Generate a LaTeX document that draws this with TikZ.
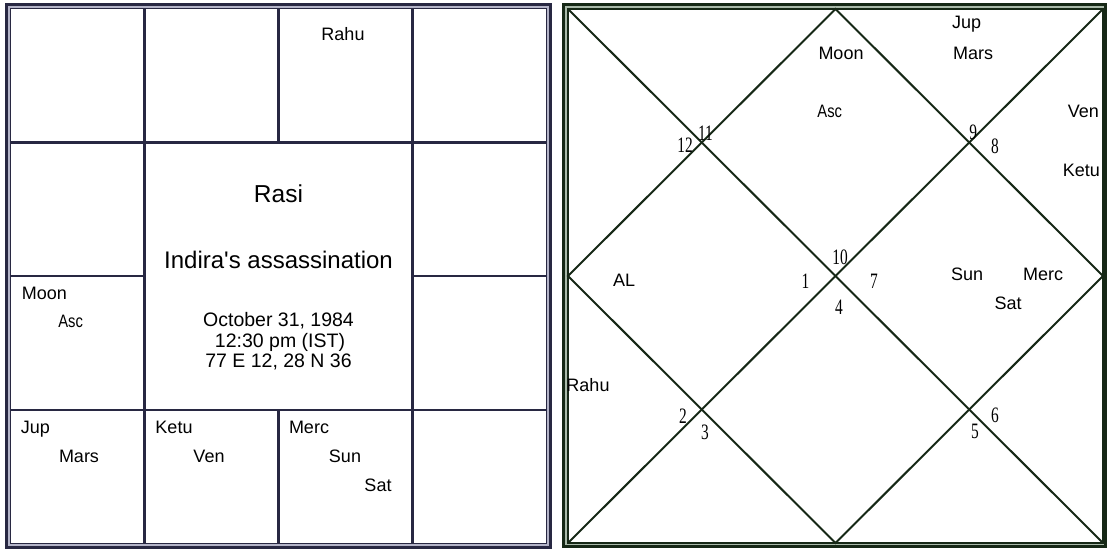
\documentclass[tikz,border=0pt]{standalone}
\usepackage{fontspec}
\setmainfont{Liberation Sans}
\newfontfamily\narrowsans[FakeStretch=0.82]{Liberation Sans}
\newfontfamily\housefont[FakeStretch=0.7]{Liberation Serif}
\definecolor{gridnavy}{RGB}{40,40,66}
\definecolor{framelav}{RGB}{180,180,200}
\definecolor{linegreen}{RGB}{22,40,22}
\definecolor{framegreen}{RGB}{170,186,170}
\begin{document}
\begin{tikzpicture}[x=1pt,y=-1pt,
  grid/.style={gridnavy,line width=2.5pt},
  house/.style={linegreen,line width=2pt},
  planet/.style={font=\fontsize{18}{20}\selectfont,inner sep=0pt,anchor=base},
  narrowplanet/.style={font=\narrowsans\fontsize{18}{20}\selectfont,inner sep=0pt,anchor=base},
  housenr/.style={font=\housefont\fontsize{22}{22}\selectfont,inner sep=0pt}]
\useasboundingbox (0,0) rectangle (1107,549);
\draw[framelav,line width=5pt] (8.5,6.5) rectangle (548.5,545.5);
\draw[gridnavy,line width=3pt] (6.5,4.5) rectangle (550.5,547.5);
\draw[gridnavy,line width=1.3pt] (10.5,8.5) rectangle (546.5,543.5);
\foreach \x in {144.5,412.5}{
  \draw[grid] (\x,8.5)--(\x,543.5);
}
\draw[grid] (278.5,8.5)--(278.5,142.25);
\draw[grid] (278.5,409.75)--(278.5,543.5);
\foreach \y in {142.25,409.75}{
  \draw[grid] (10.5,\y)--(546.5,\y);
}
\draw[grid] (10.5,276)--(144.5,276);
\draw[grid] (412.5,276)--(546.5,276);
\node[planet,font=\fontsize{24.5}{24}\selectfont] (rasi) at (278.5,202.5) {Rasi};
\node[planet,font=\fontsize{24}{24}\selectfont] (event) at (278.5,268.3) {Indira\textquotesingle s assassination};
\node[planet,font=\fontsize{19.5}{20}\selectfont] (date) at (278.5,326.7) {October 31, 1984};
\node[planet,font=\fontsize{19.5}{20}\selectfont] (time) at (280,347) {12:30 pm (IST)};
\node[planet,font=\fontsize{19.5}{20}\selectfont] (place) at (278.5,367.3) {77 E 12, 28 N 36};
\foreach \t/\x/\y/\n in {Rahu/343/40/rahuL,Moon/44.5/299/moonL,Jup/35.5/433/jupL,Mars/79/462.5/marsL,
  Ketu/174/433/ketuL,Ven/209/462.5/venL,Merc/309/433/mercL,Sun/345/462.5/sunL,Sat/378/491/satL}{
  \node[planet] (\n) at (\x,\y) {\t};
}
\node[narrowplanet] (ascL) at (70.7,327) {Asc};
\draw[framegreen,line width=5pt] (565.5,6.5) rectangle (1104.5,545);
\draw[linegreen,line width=3pt] (563.5,4.5) rectangle (1105.5,546.5);
\draw[linegreen,line width=1.3pt] (568,9) rectangle (1103,543);
\coordinate (tl) at (568,9);
\coordinate (tr) at (1103,9);
\coordinate (bl) at (568,543);
\coordinate (br) at (1103,543);
\coordinate (tm) at (835.5,9);
\coordinate (rm) at (1103,276);
\coordinate (bm) at (835.5,543);
\coordinate (lm) at (568,276);
\draw[house] (tl)--(br);
\draw[house] (bl)--(tr);
\draw[house] (tm)--(rm)--(bm)--(lm)--cycle;
\foreach \t/\x/\y in {12/685/145.5,11/705.5/133,9/973.3/132,8/995/146,10/840/257,1/805.5/281,
  7/874/281,4/839/307.5,2/683/416,3/705/432.7,6/995/415.5,5/975/431}{
  \node[housenr] (h\t) at (\x,\y) {\t};
}
\foreach \t/\x/\y/\n in {Jup/966.7/28/jupR,Moon/841/59.3/moonR,Mars/973/59.3/marsR,Ven/1083.3/117.3/venR,
  Ketu/1081.3/176.7/ketuR,AL/624/286/alR,Rahu/588/391/rahuR,Sun/967/280/sunR,Merc/1043/280/mercR,Sat/1008/309/satR}{
  \node[planet] (\n) at (\x,\y) {\t};
}
\node[narrowplanet] (ascR) at (829.7,117.3) {Asc};
\end{tikzpicture}
\end{document}
